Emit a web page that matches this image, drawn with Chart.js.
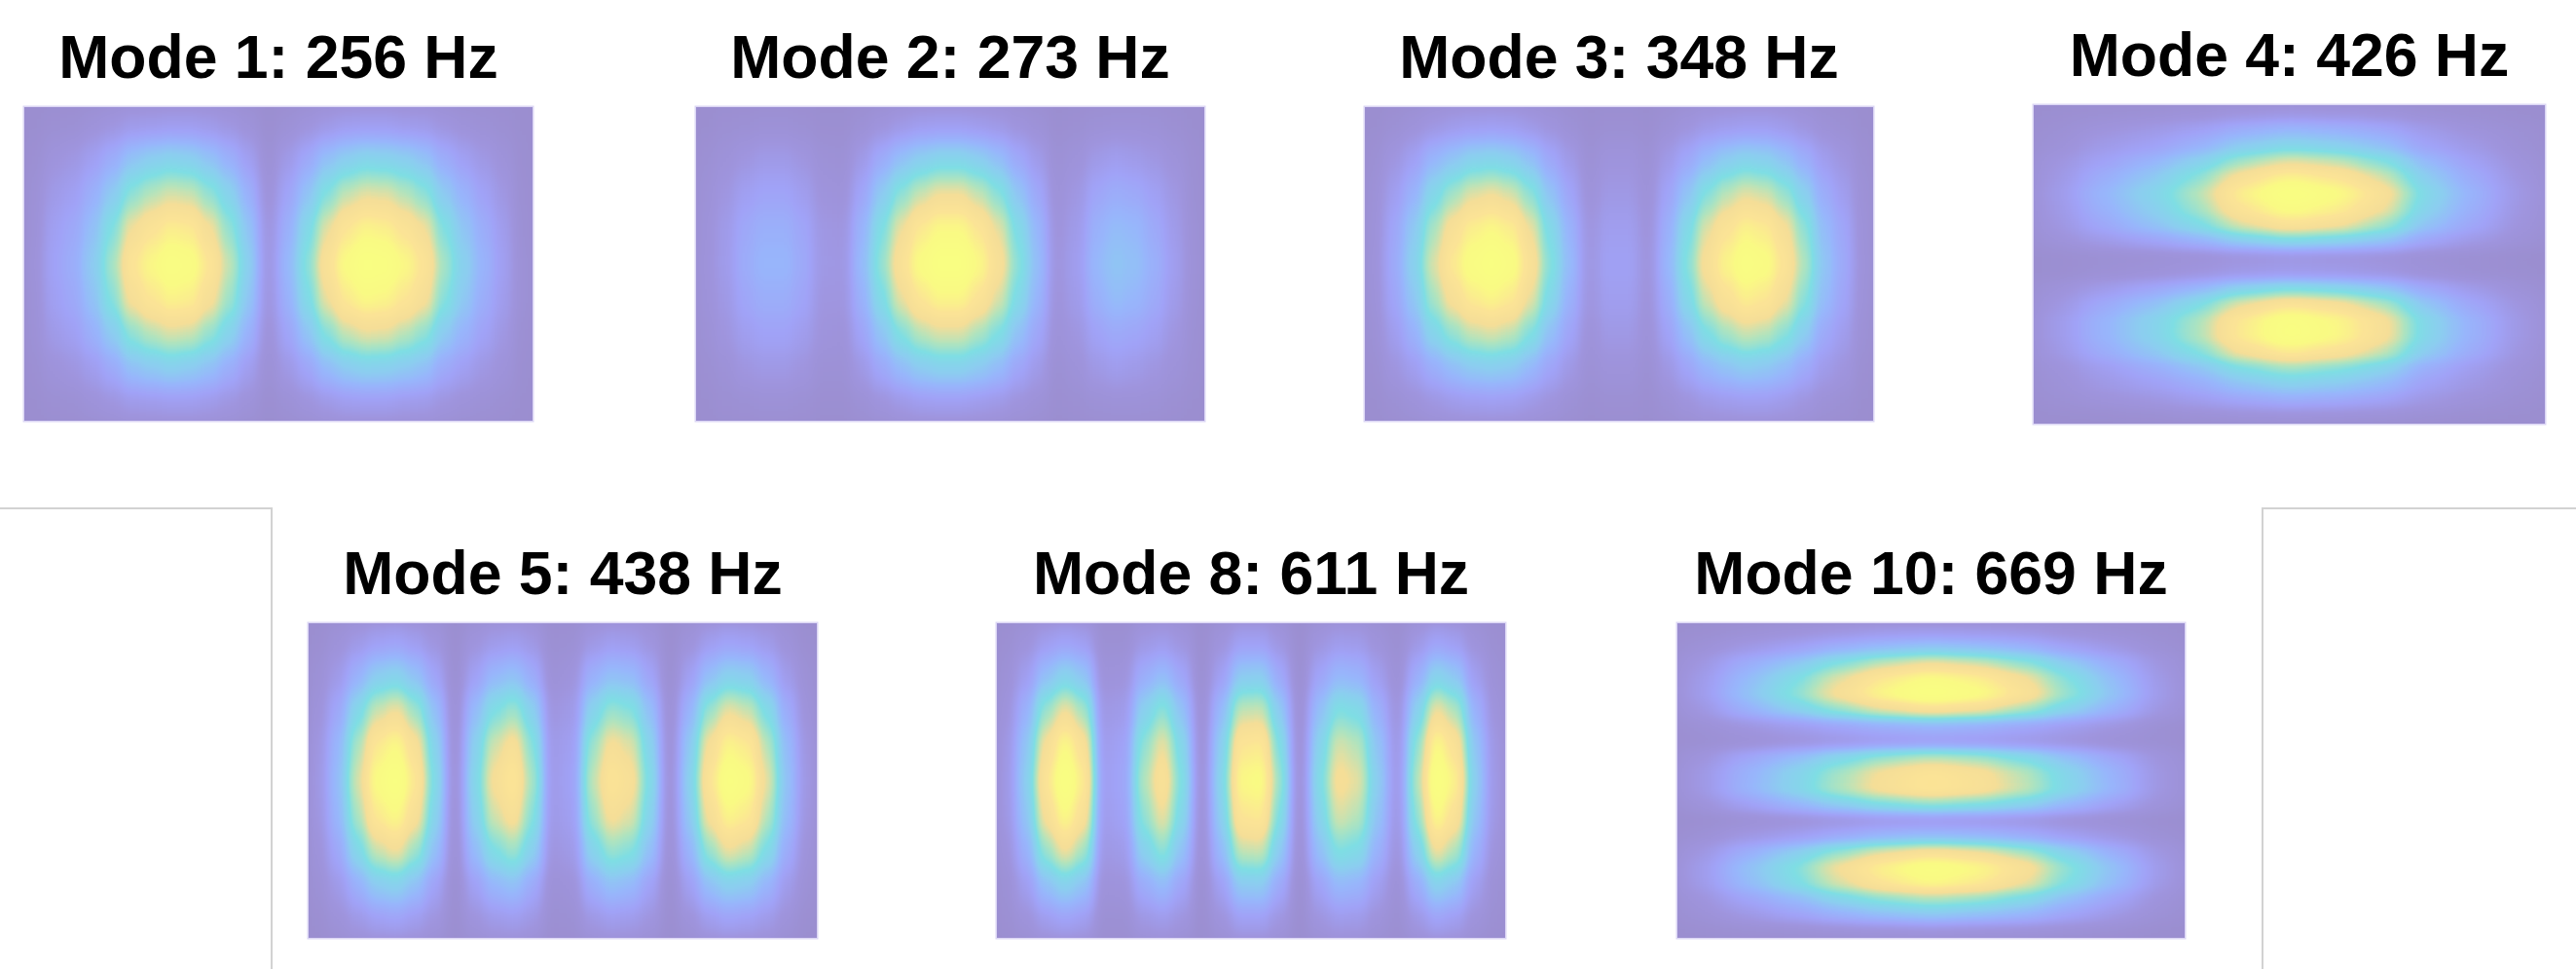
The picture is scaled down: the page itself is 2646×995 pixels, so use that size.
<!DOCTYPE html>
<html lang="en">

<head>
  <meta charset="UTF-8">
  <title>Mode shapes</title>
  <script src="https://cdn.jsdelivr.net/npm/chart.js"></script>
  <style>
    html, body { margin: 0; padding: 0; background: #fff; }
    body { position: relative; width: 2646px; height: 995px; overflow: hidden; }
    .panel { position: absolute; overflow: hidden; box-shadow: 0 0 0 1.5px rgba(190, 180, 235, 0.55); }
    .panel canvas { position: absolute; background: #000; }
    .title { position: absolute; text-align: center; color: #000; white-space: nowrap;
      font: bold 62.5px "Liberation Sans", Arial, sans-serif; line-height: 70px; filter: blur(0.7px); }
    .frame { position: absolute; border: 0 solid #d2d2d2; }
  </style>
</head>

<body>
  <!-- colour table is applied after the blur, so the rings stay sharp -->
  <svg width="0" height="0" style="position:absolute">
    <filter id="heatTall" x="0" y="0" width="1" height="1" color-interpolation-filters="sRGB">
      <feGaussianBlur stdDeviation="6 12" />
      <feComponentTransfer>
        <feFuncR class="r" type="table" /><feFuncG class="g" type="table" /><feFuncB class="b" type="table" />
      </feComponentTransfer>
    </filter>
    <filter id="heatWide" x="0" y="0" width="1" height="1" color-interpolation-filters="sRGB">
      <feGaussianBlur stdDeviation="16 6" />
      <feComponentTransfer>
        <feFuncR class="r" type="table" /><feFuncG class="g" type="table" /><feFuncB class="b" type="table" />
      </feComponentTransfer>
    </filter>
  </svg>

  <div class="frame" style="left:0;top:521px;width:278px;height:474px;border-top-width:2px;border-right-width:2px"></div>
  <div class="frame" style="left:2323px;top:521px;width:323px;height:474px;border-top-width:2px;border-left-width:2px"></div>

  <script>
    const titles = ["Mode 1: 256 Hz", "Mode 2: 273 Hz", "Mode 3: 348 Hz", "Mode 4: 426 Hz",
      "Mode 5: 438 Hz", "Mode 8: 611 Hz", "Mode 10: 669 Hz"];

    // amplitude, 0-100, top row first
    const mode1 = [
      [1,3,4,7,10,14,15,16,16,14,11,7,2,5,9,13,16,17,17,15,14,10,7,5,3,1],
      [3,9,12,18,26,36,41,44,42,36,28,18,5,14,24,35,41,45,44,41,36,26,19,13,8,2],
      [5,14,18,27,39,54,61,66,64,55,43,28,8,21,36,52,63,68,67,61,54,39,29,20,12,3],
      [6,18,23,34,51,70,79,85,83,71,55,36,11,27,47,68,81,88,86,79,70,51,37,26,16,4],
      [7,20,26,39,58,80,90,97,94,81,63,41,12,31,53,77,92,100,98,90,80,58,42,29,18,5],
      [6,18,23,35,52,72,81,87,85,73,57,37,11,28,48,69,83,90,88,81,72,52,38,26,16,5],
      [5,14,18,27,39,54,61,66,64,55,43,28,8,21,36,52,63,68,67,61,54,39,29,20,12,3],
      [3,8,11,16,24,34,38,41,39,34,26,17,5,13,22,32,39,42,41,38,34,24,18,12,8,2],
      [1,3,4,7,10,14,15,16,16,14,11,7,2,5,9,13,16,17,17,15,14,10,7,5,3,1]
    ];
    const mode2 = [
      [1,3,4,5,5,4,2,2,5,9,13,16,17,17,15,13,9,6,2,3,5,6,6,5,3,1],
      [4,7,11,14,14,11,6,5,14,25,35,41,45,45,41,34,24,15,5,8,14,17,15,12,8,3],
      [6,11,18,21,21,17,9,8,22,39,54,64,70,70,63,53,37,23,7,12,22,26,24,19,12,4],
      [7,14,23,27,27,22,12,11,29,50,69,83,90,90,81,68,48,30,9,15,28,33,31,24,15,5],
      [8,15,25,30,30,24,13,12,32,55,77,92,100,100,90,75,53,33,10,17,31,37,34,27,17,6],
      [7,13,22,26,26,21,11,11,28,48,68,81,88,88,79,66,47,29,9,15,27,33,30,24,15,5],
      [5,10,17,20,20,16,9,8,21,36,51,61,66,66,59,50,35,22,7,11,20,24,22,18,11,4],
      [3,6,11,13,13,10,5,5,13,23,32,39,42,42,38,32,22,14,4,7,13,16,14,11,7,3],
      [1,3,4,5,5,4,2,2,5,9,13,16,17,17,15,13,9,6,2,3,5,6,6,5,3,1]
    ];
    const mode3 = [
      [1,4,7,11,14,16,17,16,13,9,5,2,3,3,2,5,9,13,15,16,16,14,10,6,4,1],
      [4,11,19,30,37,43,45,42,35,23,14,5,9,9,5,14,23,33,40,44,42,36,27,17,11,4],
      [6,17,29,46,58,67,70,66,54,36,22,8,13,13,7,21,36,52,62,68,65,56,42,26,17,6],
      [7,22,38,59,75,86,90,85,69,47,29,11,17,17,9,27,47,67,79,87,84,72,54,33,22,7],
      [8,24,42,66,83,95,100,94,77,52,32,12,19,19,10,30,52,74,88,97,93,80,60,37,24,8],
      [7,21,37,58,73,84,88,83,68,46,28,11,17,17,9,26,46,65,77,85,82,70,53,33,21,7],
      [5,16,28,44,55,63,66,62,51,34,21,8,13,13,7,20,34,49,58,64,61,53,40,24,16,5],
      [3,10,17,26,33,38,40,38,31,21,13,5,8,8,4,12,21,30,35,39,37,32,24,15,10,3],
      [1,4,7,11,14,16,17,16,13,9,5,2,3,3,2,5,9,13,15,16,16,14,10,6,4,1]
    ];
    const mode4 = [
      [2,4,5,7,10,12,11,9,5,3,1],
      [4,9,13,18,26,30,28,23,14,8,4],
      [6,14,19,27,39,45,41,34,20,13,5],
      [10,20,29,41,58,68,63,52,31,19,8],
      [12,26,37,52,75,87,80,66,39,24,10],
      [14,30,43,60,86,100,92,76,45,28,12],
      [13,28,40,56,80,93,86,71,42,26,11],
      [11,23,34,47,67,78,72,59,35,22,9],
      [7,14,20,28,40,47,43,36,21,13,6],
      [2,4,5,7,10,12,11,9,5,3,1],
      [2,5,7,10,14,16,15,12,7,4,2],
      [7,15,22,30,43,50,46,38,23,14,6],
      [11,24,34,48,69,80,74,61,36,22,10],
      [14,29,42,58,83,97,89,74,44,27,12],
      [14,29,42,59,84,98,90,74,44,27,12],
      [12,25,36,50,72,84,77,64,38,24,10],
      [8,17,25,35,50,58,53,44,26,16,7],
      [6,13,18,25,36,42,39,32,19,12,5],
      [4,8,11,16,22,26,24,20,12,7,3],
      [1,2,3,5,7,8,7,6,4,2,1]
    ];
    const mode5 = [
      [2,7,13,18,20,16,10,2,9,14,16,12,3,4,12,16,15,10,2,8,16,20,18,14,7,2],
      [5,14,28,40,43,35,21,3,19,31,35,25,6,9,27,34,32,21,3,18,34,42,40,29,15,5],
      [8,23,46,64,70,57,34,6,32,50,57,41,11,14,43,56,52,34,6,29,56,69,64,48,25,8],
      [11,30,59,83,90,74,43,7,41,65,74,52,14,18,56,72,67,43,7,38,72,88,83,61,32,11],
      [12,33,65,92,100,82,48,8,45,72,82,58,15,20,62,80,74,48,8,42,80,98,92,68,35,12],
      [11,30,59,83,90,74,43,7,41,65,74,52,14,18,56,72,67,43,7,38,72,88,83,61,32,11],
      [8,23,46,64,70,57,34,6,32,50,57,41,11,14,43,56,52,34,6,29,56,69,64,48,25,8],
      [5,14,27,39,42,34,20,3,19,30,34,24,6,8,26,34,31,20,3,18,34,41,39,29,15,5],
      [2,7,13,18,20,16,10,2,9,14,16,12,3,4,12,16,15,10,2,8,16,20,18,14,7,2]
    ];
    const mode8 = [
      [3,8,16,20,17,4,4,12,15,10,2,9,18,18,11,2,10,15,14,8,3,12,20,17,8,3],
      [6,17,34,43,36,8,9,26,33,22,3,19,39,40,24,3,21,31,29,17,6,26,43,37,17,6],
      [9,28,56,70,58,13,15,42,54,35,6,32,63,64,39,6,34,51,48,28,10,42,70,60,28,9],
      [12,36,72,90,75,16,20,54,69,45,7,41,81,83,50,7,43,66,61,36,13,54,90,77,36,12],
      [13,40,80,100,83,18,22,60,77,50,8,45,90,92,56,8,48,73,68,40,14,60,100,86,40,13],
      [12,36,72,90,75,16,20,54,69,45,7,41,81,83,50,7,43,66,61,36,13,54,90,77,36,12],
      [9,28,56,70,58,13,15,42,54,35,6,32,63,64,39,6,34,51,48,28,10,42,70,60,28,9],
      [5,17,34,42,35,8,9,25,32,21,3,19,38,39,24,3,20,31,29,17,6,25,42,36,17,5],
      [3,8,16,20,17,4,4,12,15,10,2,9,18,18,11,2,10,15,14,8,3,12,20,17,8,3]
    ];
    const mode10 = [
      [2,5,8,11,14,15,14,12,8,5,2],
      [6,13,19,27,33,37,34,29,20,13,5],
      [11,25,36,51,63,70,65,55,39,25,10],
      [14,32,48,67,83,92,86,72,51,32,13],
      [15,35,52,73,90,100,93,78,55,35,14],
      [11,27,40,55,68,76,71,59,42,27,11],
      [5,11,16,22,27,30,28,23,17,11,4],
      [3,6,9,13,16,18,17,14,10,6,3],
      [9,22,32,45,56,62,58,48,34,22,9],
      [12,28,42,58,72,80,74,62,44,28,11],
      [12,29,43,60,74,82,76,64,45,29,11],
      [8,19,29,40,50,55,51,43,30,19,8],
      [2,5,8,11,14,15,14,12,8,5,2],
      [5,12,17,24,30,33,31,26,18,12,5],
      [11,26,39,55,68,75,70,59,41,26,11],
      [15,34,50,71,87,97,90,76,53,34,14],
      [14,32,47,66,81,90,84,70,50,32,13],
      [9,21,31,44,54,60,56,47,33,21,8],
      [6,13,20,28,34,38,35,30,21,13,5],
      [2,4,5,7,9,10,9,8,6,4,1]
    ];
    const modes = [mode1, mode2, mode3, mode4, mode5, mode8, mode10];

    // colour table, evenly spaced from amplitude 0 to 100
    const cmapR = [155, 159, 161, 152, 140, 127, 178, 245, 252, 250, 250];
    const cmapG = [142, 149, 163, 182, 206, 222, 228, 222, 228, 250, 255];
    const cmapB = [207, 222, 247, 252, 240, 228, 190, 152, 150, 132, 130];

    // left, top, width, height of each heat map on the page
    const boxes = [[25, 110, 522, 322], [715, 110, 522, 322], [1402, 110, 522, 322], [2089, 108, 525, 327],
      [317, 640, 522, 323], [1024, 640, 522, 323], [1723, 640, 521, 323]];
    const margin = 40;

    function setTable(cls, cmap) {
      document.querySelectorAll("." + cls).forEach(el => {
        el.setAttribute("tableValues", cmap.map(c => (c / 255).toFixed(3)).join(" "));
      });
    }
    setTable("r", cmapR);
    setTable("g", cmapG);
    setTable("b", cmapB);

    function gray(v) {
      const g = Math.round(v * 2.55);
      return `rgb(${g},${g},${g})`;
    }

    modes.forEach((rows, i) => {
      const [left, top, w, h] = boxes[i];

      const title = document.createElement("div");
      title.className = "title";
      title.textContent = titles[i];
      title.style.cssText = `left:${left}px;width:${w}px;top:${top - 87}px`;
      document.body.appendChild(title);

      const panel = document.createElement("div");
      panel.className = "panel";
      panel.style.cssText = `left:${left}px;top:${top}px;width:${w}px;height:${h}px`;
      const canvas = document.createElement("canvas");
      canvas.width = w + margin * 2;
      canvas.height = h + margin * 2;
      canvas.style.cssText = `left:${-margin}px;top:${-margin}px;filter:url(#${rows.length > 10 ? "heatWide" : "heatTall"})`;
      panel.appendChild(canvas);
      document.body.appendChild(panel);

      // one stacked dataset per row, each cell one unit tall
      new Chart(canvas.getContext("2d"), {
        type: "bar",
        data: {
          labels: rows[0].map((_, c) => c),
          datasets: rows.map(row => ({
            data: row.map(() => 1),
            backgroundColor: row.map(gray),
            borderWidth: 0,
            barPercentage: 1,
            categoryPercentage: 1
          }))
        },
        options: {
          responsive: false,
          animation: false,
          devicePixelRatio: 1,
          layout: { padding: margin },
          plugins: { legend: { display: false }, tooltip: { enabled: false } },
          scales: {
            x: { stacked: true, display: false },
            y: { stacked: true, display: false, reverse: true, min: 0, max: rows.length }
          }
        }
      });
    });
  </script>
</body>

</html>
